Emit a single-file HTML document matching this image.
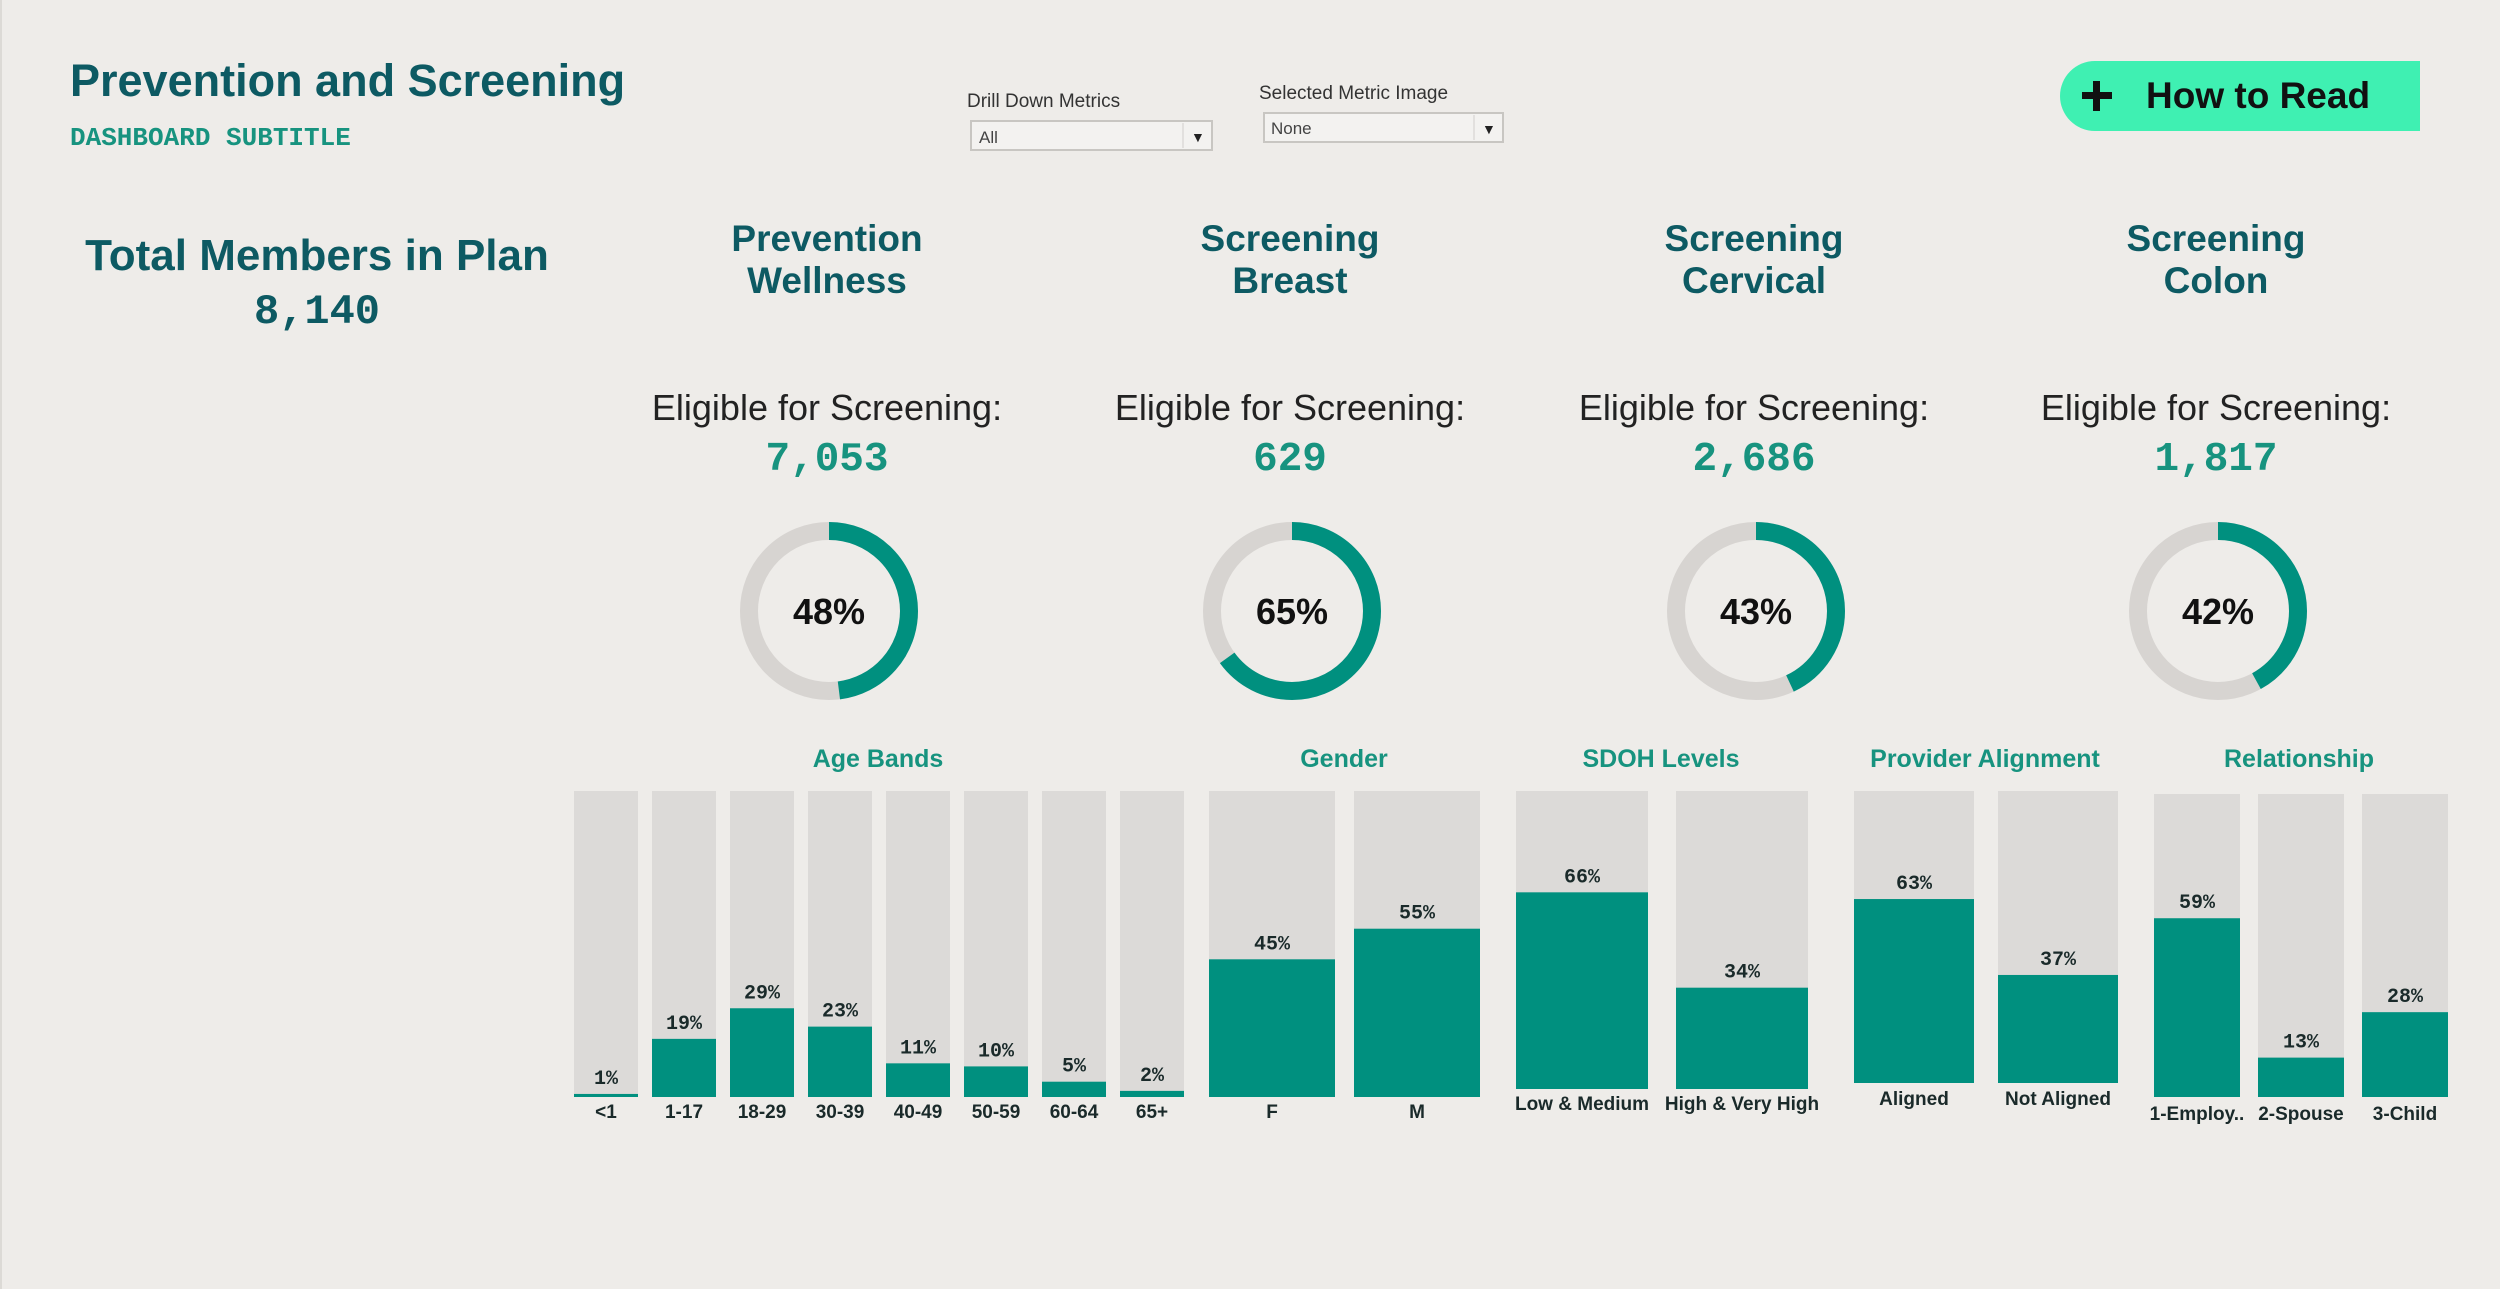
<!DOCTYPE html>
<html><head><meta charset="utf-8"><style>
html,body{margin:0;padding:0;background:#eeece9;}
svg{display:block}
.t{font-family:"Liberation Sans",sans-serif}
.m{font-family:"Liberation Mono",monospace}
</style></head><body>
<svg id="s" width="2500" height="1289" viewBox="0 0 2500 1289" xmlns="http://www.w3.org/2000/svg">
<rect x="0" y="0" width="2500" height="1289" fill="#eeece9"/>
<line x1="1" y1="0" x2="1" y2="1289" stroke="#dcdad6" stroke-width="2"/>
<text class="t" x="70" y="96" font-size="45" font-weight="bold" fill="#0d5a63">Prevention and Screening</text>
<text class="m" x="70" y="145" font-size="26" font-weight="bold" fill="#17937f">DASHBOARD SUBTITLE</text>
<text class="t" x="967" y="107" font-size="19" fill="#333">Drill Down Metrics</text>
<g>
<rect x="971" y="121" width="241" height="29" fill="#f3f2f0" stroke="#c8c6c2" stroke-width="2"/>
<line x1="1183" y1="123" x2="1183" y2="148" stroke="#d0cecb"/>
<text class="t" x="979" y="143" font-size="17" fill="#444">All</text>
<text class="t" x="1191" y="142" font-size="14" fill="#222">▼</text>
</g>
<text class="t" x="1259" y="99" font-size="19" fill="#333">Selected Metric Image</text>
<g>
<rect x="1264" y="113" width="239" height="29" fill="#f3f2f0" stroke="#c8c6c2" stroke-width="2"/>
<line x1="1474" y1="115" x2="1474" y2="140" stroke="#d0cecb"/>
<text class="t" x="1271" y="134" font-size="17" fill="#444">None</text>
<text class="t" x="1482" y="134" font-size="14" fill="#222">▼</text>
</g>
<g>
<path d="M2095 61 H2420 V131 H2095 A35 35 0 0 1 2095 61 Z" fill="#3ff0b2"/>
<rect x="2082" y="92" width="30" height="7" fill="#111"/>
<rect x="2093" y="81" width="7" height="30" fill="#111"/>
<text class="t" x="2146" y="108" font-size="37" font-weight="bold" fill="#111">How to Read</text>
</g>
<text class="t" x="317" y="270" font-size="44" font-weight="bold" fill="#0d5a63" text-anchor="middle">Total Members in Plan</text>
<text class="m" x="317" y="323" font-size="42" font-weight="bold" fill="#0d5a63" text-anchor="middle">8,140</text>
<g id="g"></g>
</svg>
<script>
const metricTitles1 = ["Prevention","Screening","Screening","Screening"];
const metricTitles2 = ["Wellness","Breast","Cervical","Colon"];
const eligible = ["7,053","629","2,686","1,817"];
const donutPct = [48,65,43,42];

const ageCats = ["<1","1-17","18-29","30-39","40-49","50-59","60-64","65+"];
const ageVals = [1,19,29,23,11,10,5,2];
const genderCats = ["F","M"];
const genderVals = [45,55];
const sdohCats = ["Low & Medium","High & Very High"];
const sdohVals = [66,34];
const provCats = ["Aligned","Not Aligned"];
const provVals = [63,37];
const relCats = ["1-Employ..","2-Spouse","3-Child"];
const relVals = [59,13,28];

const NS="http://www.w3.org/2000/svg";
const G=document.getElementById('g');
function mk(tag,attrs,parent){const e=document.createElementNS(NS,tag);for(const k in attrs)e.setAttribute(k,attrs[k]);(parent||G).appendChild(e);return e;}
function txt(x,y,s,size,fill,cls,weight,anchor){const e=mk('text',{x:x,y:y,'font-size':size,fill:fill,class:cls,'font-weight':weight||'normal','text-anchor':anchor||'middle'});e.textContent=s;return e;}

const colX=[827,1290,1754,2216];
for(let i=0;i<4;i++){
  const cx=colX[i];
  let e=txt(cx,251,metricTitles1[i],37,'#0d5a63','t','bold');
  
  
  e=txt(cx,293,metricTitles2[i],37,'#0d5a63','t','bold');
  
  
  e=txt(cx,420,'Eligible for Screening:',36,'#222','t');
  
  
  e=txt(cx,470,eligible[i],41,'#17937f','m','bold');
  
  
  const cy=611,r=80,C=2*Math.PI*r;
  e=mk('circle',{cx:cx+2,cy:cy,r:r,fill:'none',stroke:'#d7d4d1','stroke-width':18});
  
  
  e=mk('circle',{cx:cx+2,cy:cy,r:r,fill:'none',stroke:'#00907f','stroke-width':18,'stroke-dasharray':(C*donutPct[i]/100)+' '+C,transform:`rotate(-90 ${cx+2} ${cy})`});
  
  
  e=txt(cx+2,624,donutPct[i]+'%',36,'#111','t','bold');
  
  
}

function chart(title,titleX,cats,vals,x0,w,pitch,top,bottom,labelY){
  let e=txt(titleX,767,title,25,'#17937f','t','bold');
  
  
  const h=bottom-top;
  const y=v=>bottom-h*v/100;
  for(let i=0;i<cats.length;i++){
    const x=x0+i*pitch;
    e=mk('rect',{x:x,y:top,width:w,height:h,fill:'#dcdad8'});
    
    
    e=mk('rect',{x:x,y:y(vals[i]),width:w,height:bottom-y(vals[i]),fill:'#00907f'});
    
    
    e=txt(x+w/2,y(vals[i])-10,vals[i]+'%',20,'#1a2a2a','m','bold');
    
    
    e=txt(x+w/2,labelY,cats[i],19,'#1a2a2a','t','bold');
    
    
  }
}
chart('Age Bands',878,ageCats,ageVals,574,64,78,791,1097,1118);
chart('Gender',1344,genderCats,genderVals,1209,126,145,791,1097,1118);
chart('SDOH Levels',1661,sdohCats,sdohVals,1516,132,160,791,1089,1110);
chart('Provider Alignment',1985,provCats,provVals,1854,120,144,791,1083,1105);
chart('Relationship',2299,relCats,relVals,2154,86,104,794,1097,1120);
</script>
</body></html>
